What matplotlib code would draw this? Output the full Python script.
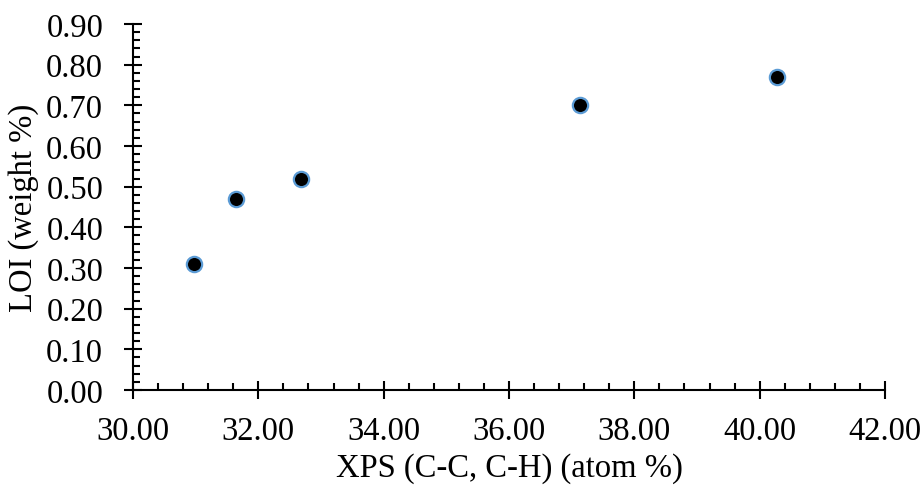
import matplotlib
matplotlib.use("Agg")
import matplotlib.pyplot as plt
from matplotlib.ticker import MultipleLocator, FormatStrFormatter

xps = [30.97, 31.65, 32.68, 37.14, 40.27]
loi = [0.31, 0.47, 0.52, 0.70, 0.77]

plt.rcParams['font.family'] = ['Liberation Serif', 'DejaVu Serif']

fig = plt.figure(figsize=(9.24, 4.89), dpi=100)
ax = fig.add_axes([133/924, 1-391/489, (885-133)/924, (391-25)/489])

ax.plot(xps, loi, linestyle='none', marker='o', markersize=11,
        markerfacecolor='black', markeredgecolor='#5B9BD5', markeredgewidth=1.6)

ax.set_xlim(30, 42)
ax.set_ylim(0, 0.9)
ax.xaxis.set_major_locator(MultipleLocator(2))
ax.xaxis.set_minor_locator(MultipleLocator(0.4))
ax.yaxis.set_major_locator(MultipleLocator(0.1))
ax.yaxis.set_minor_locator(MultipleLocator(0.02))
ax.xaxis.set_major_formatter(FormatStrFormatter('%.2f'))
ax.yaxis.set_major_formatter(FormatStrFormatter('%.2f'))

for s in ['top', 'right']:
    ax.spines[s].set_visible(False)
for s in ['left', 'bottom']:
    ax.spines[s].set_linewidth(1.5)
    ax.spines[s].set_color('black')

ax.tick_params(which='major', direction='inout', length=13, width=1.5,
               labelsize=23.5)
ax.tick_params(which='minor', direction='in', length=5, width=1.5)
ax.tick_params(axis='y', which='major', pad=15)
ax.tick_params(axis='x', which='major', pad=12)

ax.set_xlabel('XPS (C-C, C-H) (atom %)', fontsize=23.5, labelpad=4)
ax.set_ylabel('LOI (weight %)', fontsize=23.5, labelpad=5)

fig.savefig('out.png', dpi=100)
